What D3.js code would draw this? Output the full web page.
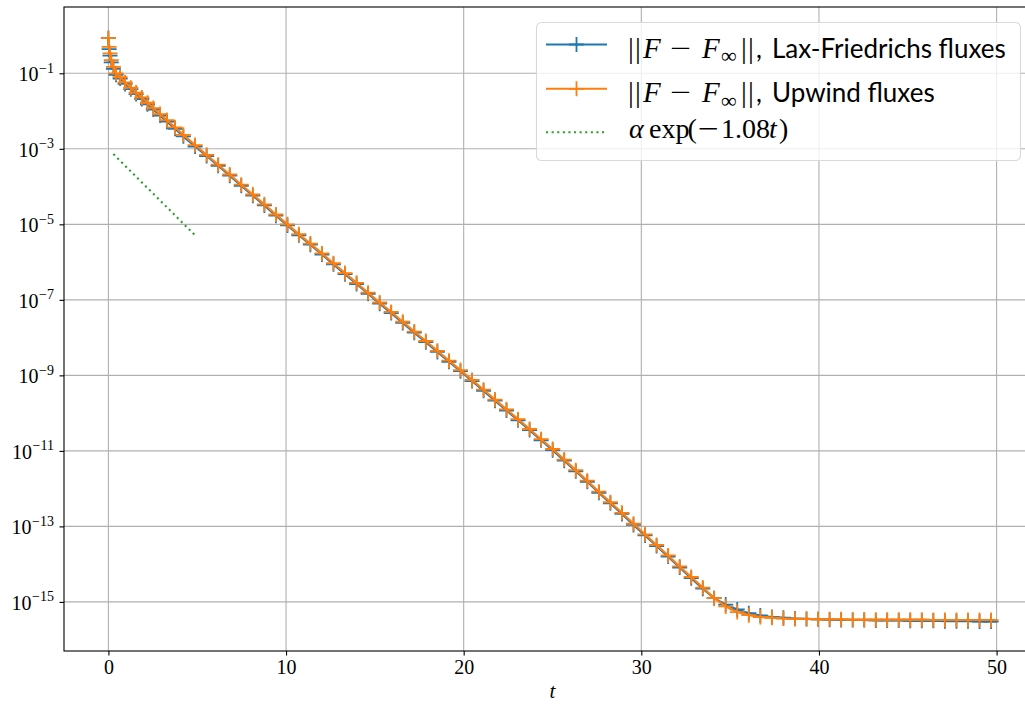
<!DOCTYPE html>
<html>
<head>
<meta charset="utf-8">
<script src="https://cdn.jsdelivr.net/npm/d3@7"></script>
<style>
  body { margin: 0; background: #fff; }
  svg { display: block; }
  .tick text { font-family: "Liberation Serif", serif; }
</style>
</head>
<body>
<div id="chart"></div>
<script>

// time of each saved step (the last one only closes the line, no marker)
var times = [0, 0.04, 0.09, 0.16, 0.28, 0.43, 0.66, 0.94, 1.26, 1.56, 1.88, 2.2, 2.53, 2.91, 3.29, 3.75, 4.22,
  4.88, 5.53, 6.18, 6.83, 7.48, 8.13, 8.78, 9.43, 10.08, 10.72, 11.37, 12.02, 12.67, 13.32, 13.97, 14.62,
  15.27, 15.92, 16.57, 17.22, 17.87, 18.52, 19.17, 19.82, 20.47, 21.12, 21.76, 22.41, 23.06, 23.71, 24.36,
  25.01, 25.66, 26.31, 26.96, 27.61, 28.26, 28.91, 29.56, 30.21, 30.86, 31.51, 32.16, 32.81, 33.46, 34.10,
  34.75, 35.40, 36.05, 36.70, 37.35, 38.00, 38.65, 39.30, 39.95, 40.60, 41.25, 41.90, 42.55, 43.20, 43.84,
  44.49, 45.14, 45.79, 46.44, 47.09, 47.74, 48.39, 49.04, 49.69, 50.0];

// log10 of ||F - F_inf||, Lax-Friedrichs fluxes
var laxLog = [-0.07, -0.36, -0.53, -0.71, -0.88, -1.04, -1.14, -1.28, -1.42, -1.55, -1.68, -1.82, -1.96, -2.12, -2.28, -2.47, -2.67,
  -2.94, -3.19, -3.45, -3.71, -3.98, -4.24, -4.50, -4.77, -5.03, -5.29, -5.54, -5.80, -6.06, -6.32, -6.58, -6.84,
  -7.10, -7.35, -7.61, -7.87, -8.12, -8.38, -8.64, -8.89, -9.15, -9.41, -9.67, -9.93, -10.19, -10.45, -10.72,
  -10.98, -11.26, -11.54, -11.82, -12.11, -12.39, -12.67, -12.96, -13.24, -13.52, -13.80, -14.09, -14.37, -14.65, -14.90,
  -15.07, -15.20, -15.30, -15.36, -15.40, -15.42, -15.44, -15.45, -15.46, -15.47, -15.48, -15.48, -15.48, -15.49, -15.49,
  -15.49, -15.50, -15.50, -15.50, -15.51, -15.51, -15.51, -15.52, -15.52, -15.52];

// log10 of ||F - F_inf||, upwind fluxes
var upwindLog = [-0.07, -0.30, -0.47, -0.65, -0.83, -1.00, -1.10, -1.24, -1.38, -1.51, -1.64, -1.78, -1.92, -2.08, -2.24, -2.43, -2.63,
  -2.90, -3.16, -3.42, -3.68, -3.95, -4.21, -4.47, -4.74, -5.00, -5.26, -5.51, -5.77, -6.03, -6.29, -6.55, -6.81,
  -7.07, -7.32, -7.58, -7.84, -8.09, -8.35, -8.61, -8.86, -9.12, -9.38, -9.64, -9.90, -10.16, -10.42, -10.69,
  -10.95, -11.23, -11.51, -11.79, -12.08, -12.36, -12.64, -12.93, -13.21, -13.49, -13.77, -14.06, -14.34, -14.62, -14.90,
  -15.12, -15.27, -15.35, -15.40, -15.42, -15.44, -15.45, -15.45, -15.46, -15.46, -15.46, -15.47, -15.47, -15.47, -15.47,
  -15.47, -15.47, -15.47, -15.48, -15.48, -15.48, -15.48, -15.48, -15.48, -15.48];

// reference slope alpha*exp(-1.08 t)
var refTimes = [0.28, 1.5, 3.0, 4.94];
var refLog = [-3.14, -3.71, -4.41, -5.32];

var xTicks = [0, 10, 20, 30, 40, 50];
var yTickExp = [-1, -3, -5, -7, -9, -11, -13, -15];

var colors = { lax: "#1f77b4", upwind: "#ff7f0e", ref: "#2ca02c" };

var W = 1025, H = 704;
var box = { left: 64, right: 1041, top: 7, bottom: 651 };

var x = d3.scaleLinear().domain([-2.5, 52.5]).range([box.left, box.right]);
var y = d3.scaleLog().domain([Math.pow(10, -16.3), Math.pow(10, 0.756)]).range([box.bottom, box.top]);

function pts(ts, logs) {
  return ts.map(function(t, i) { return { t: t, v: Math.pow(10, logs[i]) }; });
}
var laxData = pts(times, laxLog);
var upwindData = pts(times, upwindLog);
var refData = pts(refTimes, refLog);

var svg = d3.select("#chart").append("svg")
  .attr("width", W)
  .attr("height", H);

// grid
var grid = svg.append("g").attr("stroke", "#b0b0b0").attr("stroke-width", 1.1);
grid.selectAll("line.gx").data(xTicks).enter().append("line")
  .attr("x1", function(d){ return x(d); }).attr("x2", function(d){ return x(d); })
  .attr("y1", box.top).attr("y2", box.bottom);
grid.selectAll("line.gy").data(yTickExp).enter().append("line")
  .attr("y1", function(d){ return y(Math.pow(10, d)); }).attr("y2", function(d){ return y(Math.pow(10, d)); })
  .attr("x1", box.left).attr("x2", box.right);

// axes
var xAxis = d3.axisBottom(x).tickValues(xTicks).tickSize(4.5).tickSizeOuter(0).tickPadding(4);
var gx = svg.append("g").attr("transform", "translate(0," + box.bottom + ")").call(xAxis);
gx.selectAll(".tick text").attr("font-size", 20).attr("fill", "#000").attr("dy", "0.72em");

var yAxis = d3.axisLeft(y).tickValues(yTickExp.map(function(e){ return Math.pow(10, e); }))
  .tickSize(4.5).tickSizeOuter(0).tickFormat("");
var gy = svg.append("g").attr("transform", "translate(" + box.left + ",0)").call(yAxis);
gy.selectAll(".tick text").each(function(d) {
  var e = Math.round(Math.log10(d));
  var t = d3.select(this).attr("x", -10).attr("dy", null).attr("y", 7.4).attr("fill", "#000");
  t.append("tspan").attr("font-size", 20).text("10");
  t.append("tspan").attr("font-size", 14).attr("dy", -8.5).attr("dx", 0.5).text("\u2212" + Math.abs(e));
});
svg.selectAll(".domain").remove();
svg.selectAll(".tick line").attr("stroke", "#000").attr("stroke-width", 1.1);

svg.append("rect")
  .attr("x", box.left).attr("y", box.top)
  .attr("width", box.right - box.left).attr("height", box.bottom - box.top)
  .attr("fill", "none").attr("stroke", "#000").attr("stroke-width", 1.1);

svg.append("text")
  .attr("x", (box.left + box.right) / 2).attr("y", 698)
  .attr("text-anchor", "middle")
  .attr("font-family", "Liberation Serif, serif").attr("font-style", "italic").attr("font-size", 21)
  .text("t");

// data
var line = d3.line().x(function(d){ return x(d.t); }).y(function(d){ return y(d.v); });
var plus = "M-7.5,0H7.5M0,-7.5V7.5";

function series(data, color) {
  var g = svg.append("g");
  g.append("path").datum(data)
    .attr("d", line).attr("fill", "none")
    .attr("stroke", color).attr("stroke-width", 2.1).attr("stroke-linejoin", "round");
  g.selectAll("path.m").data(data.slice(0, -1)).enter().append("path")
    .attr("class", "m")
    .attr("transform", function(d){ return "translate(" + x(d.t) + "," + y(d.v) + ")"; })
    .attr("d", plus).attr("stroke", color).attr("stroke-width", 1.8);
}
series(laxData, colors.lax);
series(upwindData, colors.upwind);

svg.append("path").datum(refData)
  .attr("d", line).attr("fill", "none")
  .attr("stroke", colors.ref).attr("stroke-width", 2.1)
  .attr("stroke-dasharray", "2.1,3.5");

// legend
var lg = svg.append("g");
lg.append("rect")
  .attr("x", 536.5).attr("y", 22.5).attr("width", 484).attr("height", 138).attr("rx", 5)
  .attr("fill", "#fff").attr("fill-opacity", 0.8)
  .attr("stroke", "#d9d9d9").attr("stroke-width", 1.1);

var serif = "Liberation Serif, serif", sans = "Lato, sans-serif";

// ||F - F_inf|| set like LaTeX math, then the plain name
function normPieces(name) {
  return [
    { s: "|", x: 628, f: serif, z: 29 },
    { s: "|", x: 635, f: serif, z: 29 },
    { s: "F", x: 643, f: serif, z: 29, i: true },
    { s: "\u2212", x: 670, f: serif, z: 29, len: 21 },
    { s: "F", x: 702, f: serif, z: 29, i: true },
    { s: "\u221e", x: 721, f: serif, z: 22, dy: 5.5 },
    { s: "|", x: 741, f: serif, z: 29, dy: -5.5 },
    { s: "|", x: 748, f: serif, z: 29 },
    { s: ",", x: 756, f: sans, z: 26 },
    { s: name, x: 772, f: sans, z: 26 }
  ];
}
var expPieces = [
  { s: "\u03b1", x: 629, f: serif, z: 28, i: true },
  { s: "exp", x: 649, f: serif, z: 28 },
  { s: "(", x: 687.5, f: serif, z: 28 },
  { s: "\u2212", x: 698, f: serif, z: 28, len: 21 },
  { s: "1.08", x: 721, f: serif, z: 28 },
  { s: "t", x: 769, f: serif, z: 28, i: true },
  { s: ")", x: 779, f: serif, z: 28 }
];

var rows = [
  { color: colors.lax, marker: true, dash: null, pieces: normPieces("Lax-Friedrichs fluxes"), base: 57.5 },
  { color: colors.upwind, marker: true, dash: null, pieces: normPieces("Upwind fluxes"), base: 102 },
  { color: colors.ref, marker: false, dash: "2.1,3.5", pieces: expPieces, base: 138 }
];
var rowY = [44.5, 88.8, 132.2];

rows.forEach(function(r, i) {
  var cy = rowY[i];
  lg.append("line").attr("x1", 546).attr("x2", 607).attr("y1", cy).attr("y2", cy)
    .attr("stroke", r.color).attr("stroke-width", 2.1).attr("stroke-dasharray", r.dash);
  if (r.marker) {
    lg.append("path").attr("transform", "translate(576.5," + cy + ")")
      .attr("d", plus).attr("stroke", r.color).attr("stroke-width", 1.8);
  }
  var t = lg.append("text").attr("y", r.base).attr("fill", "#000");
  r.pieces.forEach(function(p) {
    var ts = t.append("tspan")
      .attr("x", p.x).attr("dy", p.dy || null)
      .attr("font-family", p.f).attr("font-size", p.z)
      .attr("font-style", p.i ? "italic" : null)
      .text(p.s);
    if (p.len) ts.attr("textLength", p.len).attr("lengthAdjust", "spacingAndGlyphs");
  });
});

</script>
</body>
</html>
